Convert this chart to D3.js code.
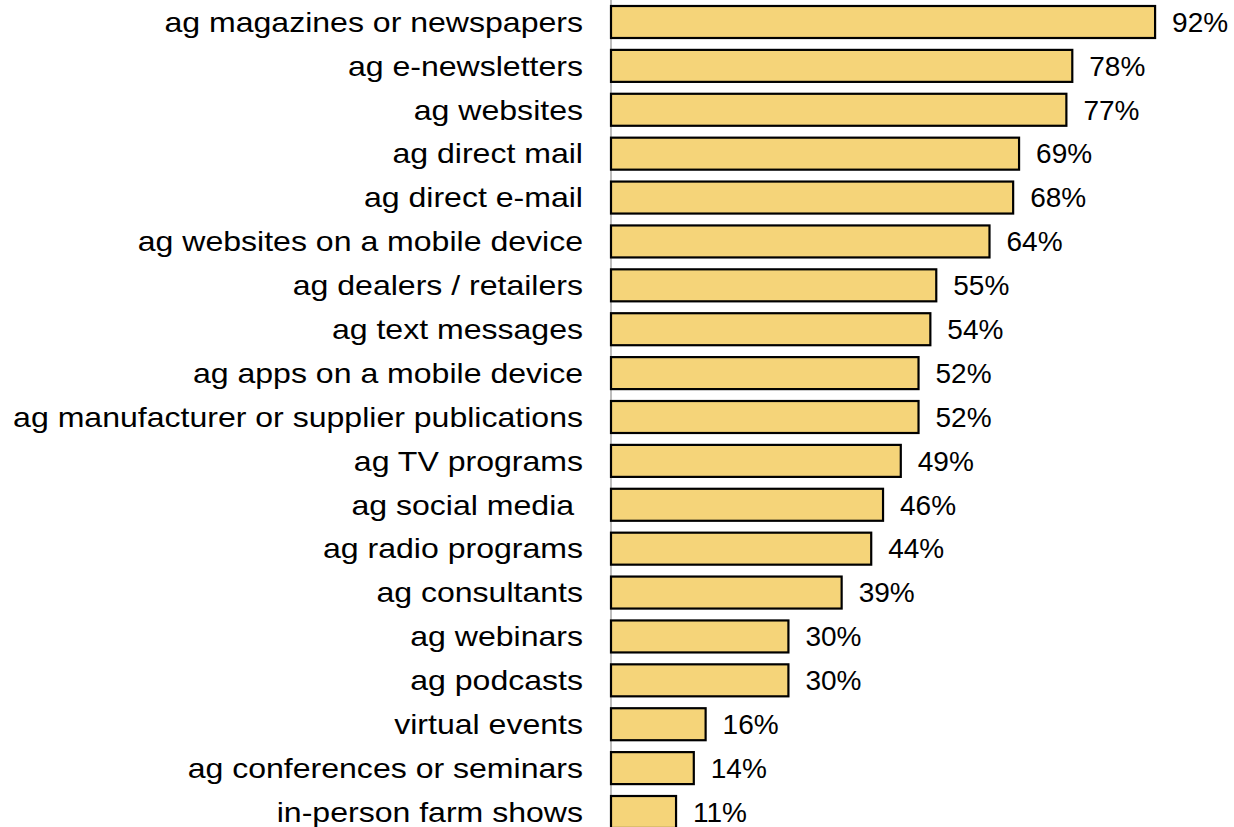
<!DOCTYPE html>
<html>
<head>
<meta charset="utf-8">
<script src="https://cdn.jsdelivr.net/npm/d3@7"></script>
<style>
  html, body { margin: 0; padding: 0; background: #fff; }
  svg { display: block; }
  text { font-family: "Liberation Sans", Arial, sans-serif; fill: #000; white-space: pre; }
</style>
</head>
<body>
<svg id="chart" width="1234" height="827"></svg>
<script>
// Share of respondents using each ag information source
const categories = [
  "ag magazines or newspapers",
  "ag e-newsletters",
  "ag websites",
  "ag direct mail",
  "ag direct e-mail",
  "ag websites on a mobile device",
  "ag dealers / retailers",
  "ag text messages",
  "ag apps on a mobile device",
  "ag manufacturer or supplier publications",
  "ag TV programs",
  "ag social media ",
  "ag radio programs",
  "ag consultants",
  "ag webinars",
  "ag podcasts",
  "virtual events",
  "ag conferences or seminars",
  "in-person farm shows"
];
const values = [92, 78, 77, 69, 68, 64, 55, 54, 52, 52, 49, 46, 44, 39, 30, 30, 16, 14, 11];
const valueLabels = values.map(v => v + "%");

const data = categories.map((c, i) => ({ category: c, value: values[i], label: valueLabels[i] }));

const svg = d3.select("#chart");
const axisX = 611;

const x = d3.scaleLinear().domain([0, 100]).range([axisX, axisX + 591.4]);
const y = d3.scaleBand()
  .domain(categories)
  .range([6, 828])
  .paddingInner(0.271)
  .paddingOuter(0);

// vertical category axis line
svg.append("line")
  .attr("x1", axisX).attr("x2", axisX)
  .attr("y1", 0).attr("y2", 827)
  .attr("stroke", "#a6a6a6")
  .attr("stroke-width", 1.5);

// bars
svg.selectAll("rect.bar")
  .data(data)
  .join("rect")
  .attr("class", "bar")
  .attr("x", x(0))
  .attr("y", d => y(d.category))
  .attr("width", d => x(d.value) - x(0))
  .attr("height", y.bandwidth())
  .attr("fill", "#F5D479")
  .attr("stroke", "#000")
  .attr("stroke-width", 2.2);

// category labels (set slightly wide)
svg.selectAll("text.cat")
  .data(data)
  .join("text")
  .attr("class", "cat")
  .attr("transform", d => `translate(583,${y(d.category) + y.bandwidth() / 2}) scale(1.145,1)`)
  .attr("dy", "0.35em")
  .attr("text-anchor", "end")
  .style("font-size", "28px")
  .text(d => d.category);

// value labels
svg.selectAll("text.val")
  .data(data)
  .join("text")
  .attr("class", "val")
  .attr("x", d => x(d.value) + 17)
  .attr("y", d => y(d.category) + y.bandwidth() / 2)
  .attr("dy", "0.35em")
  .style("font-size", "28px")
  .text(d => d.label);
</script>
</body>
</html>
